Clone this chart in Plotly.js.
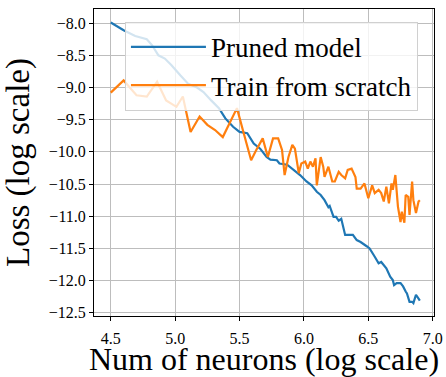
<!DOCTYPE html>
<html>
<head>
<meta charset="utf-8">
<script src="https://cdn.plot.ly/plotly-3.0.1.min.js"></script>
<style>html,body{margin:0;padding:0;background:#fff;}#chart{width:446px;height:377px;}</style>
</head>
<body>
<div id="chart"></div>
<script>
// Pruned model: log(num neurons) vs log(loss)
const prunedX = [4.50,4.60,4.69,4.78,4.82,4.87,4.92,4.97,5.04,5.10,5.17,5.22,5.28,5.34,5.39,5.45,5.50,5.56,5.61,5.66,5.71,5.74,5.79,5.81,5.87,5.92,5.97,6.02,6.06,6.10,6.13,6.16,6.19,6.20,6.23,6.25,6.27,6.29,6.32,6.36,6.38,6.41,6.44,6.49,6.51,6.55,6.58,6.60,6.62,6.64,6.67,6.69,6.70,6.72,6.75,6.77,6.79,6.80,6.82,6.84,6.85,6.87,6.89,6.90];
const prunedY = [-7.99,-8.11,-8.20,-8.25,-8.34,-8.50,-8.55,-8.65,-8.81,-8.94,-9.00,-9.07,-9.20,-9.32,-9.48,-9.61,-9.69,-9.71,-9.87,-9.95,-10.08,-10.12,-10.13,-10.18,-10.20,-10.28,-10.36,-10.46,-10.52,-10.62,-10.67,-10.75,-10.86,-10.84,-11.01,-11.01,-11.07,-11.04,-11.29,-11.29,-11.29,-11.37,-11.40,-11.47,-11.50,-11.63,-11.73,-11.71,-11.76,-11.81,-11.94,-11.99,-12.07,-12.04,-12.04,-12.09,-12.17,-12.20,-12.33,-12.33,-12.35,-12.22,-12.28,-12.31];

// Train from scratch
const scratchX = [4.50,4.60,4.70,4.78,4.86,4.93,5.01,5.06,5.12,5.19,5.25,5.31,5.37,5.48,5.53,5.59,5.63,5.68,5.72,5.76,5.80,5.83,5.85,5.88,5.91,5.93,5.96,5.98,6.01,6.03,6.05,6.07,6.09,6.10,6.13,6.15,6.16,6.19,6.22,6.24,6.27,6.29,6.32,6.34,6.37,6.40,6.41,6.44,6.47,6.50,6.53,6.55,6.58,6.60,6.62,6.64,6.66,6.68,6.69,6.71,6.73,6.75,6.76,6.78,6.79,6.81,6.82,6.84,6.85,6.87,6.89,6.90];
const scratchY = [-9.08,-8.89,-9.12,-9.14,-8.91,-9.20,-9.30,-9.14,-9.69,-9.45,-9.58,-9.66,-9.77,-9.32,-9.69,-10.13,-9.97,-9.79,-10.08,-9.79,-9.79,-9.97,-10.36,-10.08,-9.89,-9.95,-10.33,-10.18,-10.15,-10.26,-10.15,-10.23,-10.10,-10.52,-10.08,-10.23,-10.39,-10.23,-10.46,-10.46,-10.31,-10.36,-10.41,-10.28,-10.26,-10.39,-10.57,-10.57,-10.49,-10.72,-10.52,-10.64,-10.59,-10.64,-10.77,-10.54,-10.80,-10.49,-10.59,-10.36,-10.85,-11.09,-10.93,-11.10,-10.67,-10.70,-10.98,-10.46,-10.75,-10.95,-10.77,-10.75];

const seriesNames = ["Pruned model", "Train from scratch"];
const xTitle = "Num of neurons (log scale)";
const yTitle = "Loss (log scale)";

const FONT = "Liberation Serif";

const traces = [
  {x: prunedX, y: prunedY, name: seriesNames[0], type: "scatter", mode: "lines",
   line: {color: "#1f77b4", width: 2.2}},
  {x: scratchX, y: scratchY, name: seriesNames[1], type: "scatter", mode: "lines",
   line: {color: "#ff7f0e", width: 2.2}}
];

const axisCommon = {
  showline: true, linecolor: "#000", linewidth: 1, mirror: true,
  ticks: "outside", ticklen: 4, tickcolor: "#000", tickwidth: 1,
  showgrid: true, gridcolor: "#bdbdbd", gridwidth: 1,
  zeroline: false, tickformat: ".1f",
  tickfont: {family: FONT, size: 16, color: "#000"}
};

const layout = {
  width: 446, height: 377,
  margin: {l: 94, r: 12, t: 9, b: 61},
  paper_bgcolor: "#fff", plot_bgcolor: "#fff",
  font: {family: FONT, color: "#000"},
  showlegend: true,
  legend: {
    x: 0.091, y: 0.958, xanchor: "left", yanchor: "top",
    bgcolor: "rgba(255,255,255,0.8)", bordercolor: "#d0d0d0", borderwidth: 1,
    font: {family: FONT, size: 27, color: "#000"},
    itemwidth: 75, tracegroupgap: 0
  },
  xaxis: Object.assign({}, axisCommon, {
    range: [4.37, 7.01], dtick: 0.5, tick0: 4.5, ticklabelstandoff: 4,
    title: {text: xTitle, font: {family: FONT, size: 32, color: "#000"}, standoff: 15}
  }),
  yaxis: Object.assign({}, axisCommon, {
    range: [-12.55, -7.78], dtick: 0.5, tick0: -8,
    title: {text: yTitle, font: {family: FONT, size: 33, color: "#000"}, standoff: 10}
  })
};

Plotly.newPlot("chart", traces, layout, {displayModeBar: false, staticPlot: true});
</script>
</body>
</html>
